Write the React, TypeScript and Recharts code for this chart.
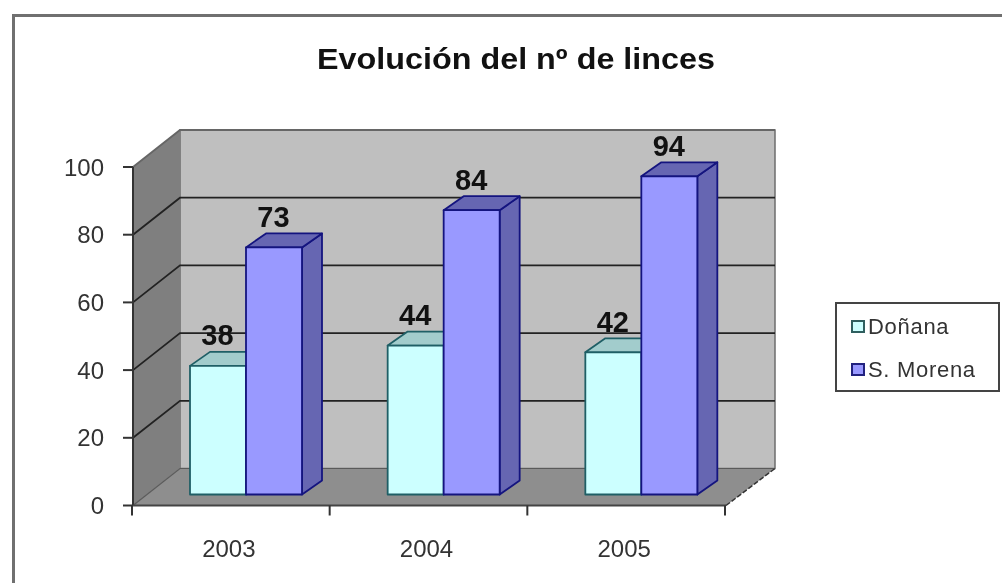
import React from "react";
import { BarChart, Bar, XAxis, YAxis, Legend, LabelList } from "recharts";

const categories = ["2003", "2004", "2005"];
const donana = [38, 44, 42];
const sMorena = [73, 84, 94];
const yTicks = [0, 20, 40, 60, 80, 100];
const chartTitle = "Evolución del nº de linces";
const seriesNames = ["Doñana", "S. Morena"];

const rows = categories.map((year, i) => ({ year, donana: donana[i], sMorena: sMorena[i] }));

const W = 1002;
const H = 583;
const FONT = "'Liberation Sans', Arial, sans-serif";
const LEFT = 133;
const RIGHT = 726;
const TOP = 167;
const BOTTOM = 505.5;
const DX = 47;
const DY = 37;
const LEGEND_W = 165;
const y = (v: number) => BOTTOM - ((BOTTOM - TOP) * v) / 100;
const bandEdges = [0, 1, 2, 3].map((i) => LEFT + ((RIGHT - LEFT) * i) / categories.length);

const Walls = () => (
  <g>
    <polygon points={`${LEFT + DX},${TOP - DY} ${RIGHT + DX + 2},${TOP - DY} ${RIGHT + DX + 2},${BOTTOM - DY} ${LEFT + DX},${BOTTOM - DY}`} fill="#bfbfbf" stroke="#6e6e6e" strokeWidth={1.5} />
    <polygon points={`${LEFT},${TOP} ${LEFT + DX},${TOP - DY} ${LEFT + DX},${BOTTOM - DY} ${LEFT},${BOTTOM}`} fill="#7f7f7f" />
    <polygon points={`${LEFT},${BOTTOM} ${LEFT + DX},${BOTTOM - DY} ${RIGHT + DX + 2},${BOTTOM - DY} ${RIGHT},${BOTTOM}`} fill="#8e8e8e" />
    {yTicks.map((t) => (
      <polyline
        key={t}
        points={`${LEFT},${y(t)} ${LEFT + DX},${y(t) - DY} ${RIGHT + DX + 2},${y(t) - DY}`}
        fill="none"
        stroke={t === 0 ? "#5a5a5a" : t === 100 ? "#666" : "#222"}
        strokeWidth={t === 0 ? 1.2 : 1.8}
      />
    ))}
    <line x1={LEFT} y1={TOP} x2={LEFT} y2={BOTTOM} stroke="#333" strokeWidth={2} />
    <line x1={LEFT} y1={BOTTOM} x2={RIGHT} y2={BOTTOM} stroke="#444" strokeWidth={2} />
    <line x1={RIGHT} y1={BOTTOM} x2={RIGHT + DX + 2} y2={BOTTOM - DY} stroke="#333" strokeWidth={1.5} strokeDasharray="5 2" />
    {bandEdges.map((bx) => (
      <line key={bx} x1={bx - 1} y1={BOTTOM} x2={bx - 1} y2={BOTTOM + 10} stroke="#333" strokeWidth={2} />
    ))}
    <text x={516} y={69} textAnchor="middle" fontFamily={FONT} fontWeight="bold" fontSize={29} fill="#111" textLength={398} lengthAdjust="spacingAndGlyphs">
      {chartTitle}
    </text>
  </g>
);

const BAR_DX = 14;
const BAR_DY = 11;
const SIDE_X = 20;
const SIDE_Y = 14;

const Box3D = ({ x, y: top, width, height, front, shade, edge }: any) => {
  const l = x + BAR_DX;
  const t = top - BAR_DY;
  const r = l + width;
  const b = t + height;
  return (
    <g stroke={edge} strokeWidth={1.8} strokeLinejoin="round">
      <polygon points={`${r},${t} ${r + SIDE_X},${t - SIDE_Y} ${r + SIDE_X},${b - SIDE_Y} ${r},${b}`} fill={shade} />
      <polygon points={`${l},${t} ${l + SIDE_X},${t - SIDE_Y} ${r + SIDE_X},${t - SIDE_Y} ${r},${t}`} fill={shade} />
      <rect x={l} y={t} width={width} height={height} fill={front} />
    </g>
  );
};

const DonanaShape = (p: any) => <Box3D {...p} front="#ccffff" shade="#a2cccc" edge="#1f5f66" />;
const MorenaShape = (p: any) => <Box3D {...p} front="#9999ff" shade="#6666b2" edge="#14147f" />;

const ValueLabel = ({ x, y: top, width, value }: any) => (
  <text
    x={x + BAR_DX + width / 2 - 0.5}
    y={top - 31.5}
    textAnchor="middle"
    fontFamily={FONT}
    fontWeight="bold"
    fontSize={29}
    fill="#111"
  >
    {value}
  </text>
);

const Swatch = ({ fill, edge }: { fill: string; edge: string }) => (
  <span
    style={{
      display: "inline-block",
      boxSizing: "border-box",
      width: 14,
      height: 13,
      background: fill,
      border: `2px solid ${edge}`,
      marginRight: 3,
    }}
  />
);

const LegendBox = ({ payload }: any) => (
  <div
    style={{
      boxSizing: "border-box",
      width: LEGEND_W,
      height: 90,
      background: "#fff",
      border: "2px solid #444",
      padding: "1px 0 0 14px",
      fontFamily: FONT,
      fontSize: 22,
      color: "#333",
      letterSpacing: 0.7,
    }}
  >
    {(payload || []).map((e: any, i: number) => (
      <div key={e.value} style={{ display: "flex", alignItems: "center", height: 43 }}>
        <Swatch fill={i === 0 ? "#ccffff" : "#9999ff"} edge={i === 0 ? "#2f5f5f" : "#22227f"} />
        <span>{e.value}</span>
      </div>
    ))}
  </div>
);

const XTick = ({ x, y: ty, payload }: any) => (
  <text x={x - 3} y={ty + 39} textAnchor="middle" fontFamily={FONT} fontSize={24} fill="#333">
    {payload.value}
  </text>
);

export default function App() {
  return (
    <div style={{ position: "absolute", left: 0, top: 0, width: W, height: H, overflow: "hidden", background: "#fff", filter: "blur(0.55px)" }}>
      <div style={{ position: "absolute", left: 12, top: 14, width: W, height: 3, background: "#707070" }} />
      <div style={{ position: "absolute", left: 12, top: 14, width: 3, height: H, background: "#707070" }} />
      <BarChart
        width={W}
        height={H}
        data={rows}
        barSize={56}
        barGap={0}
        barCategoryGap={0}
        margin={{ top: TOP, right: W - RIGHT - LEGEND_W, bottom: 0, left: 0 }}
        style={{ position: "absolute", left: 0, top: 0 }}
      >
        <Walls />
        <XAxis
          dataKey="year"
          height={H - BOTTOM}
          tick={<XTick />}
          tickSize={10}
          axisLine={false}
          tickLine={false}
          interval={0}
        />
        <YAxis
          width={LEFT}
          domain={[0, 100]}
          ticks={yTicks}
          tickSize={10}
          tickMargin={19}
          axisLine={false}
          tickLine={{ stroke: "#333", strokeWidth: 2 }}
          tick={{ fontFamily: FONT, fontSize: 24, fill: "#333" }}
        />
        <Bar dataKey="donana" name={seriesNames[0]} shape={DonanaShape} fill="#ccffff" isAnimationActive={false}>
          <LabelList dataKey="donana" content={<ValueLabel />} />
        </Bar>
        <Bar dataKey="sMorena" name={seriesNames[1]} shape={MorenaShape} fill="#9999ff" isAnimationActive={false}>
          <LabelList dataKey="sMorena" content={<ValueLabel />} />
        </Bar>
        <Legend
          layout="vertical"
          align="right"
          verticalAlign="middle"
          width={LEGEND_W}
          content={<LegendBox />}
          wrapperStyle={{ position: "absolute", left: 835, top: 302, width: LEGEND_W, height: 90, bottom: "auto", right: "auto" }}
        />
      </BarChart>
    </div>
  );
}
